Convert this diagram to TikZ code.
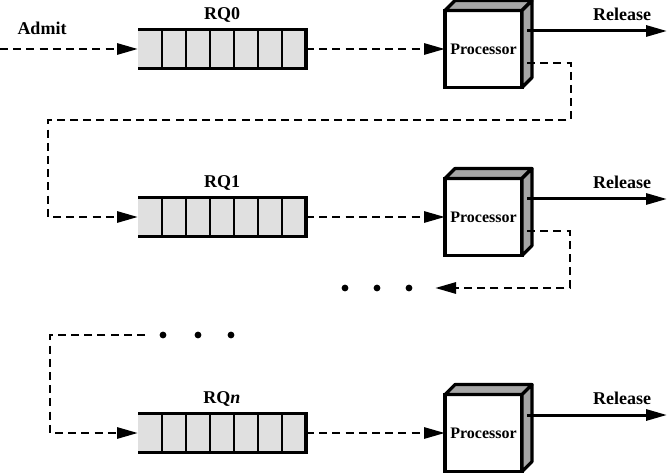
\documentclass[tikz,border=0pt]{standalone}
\usepackage{fontspec}
\setmainfont{Liberation Serif}
\usetikzlibrary{arrows.meta,positioning}

\begin{document}
\begin{tikzpicture}
      [x=0.5pt,y=-0.5pt,
       every node/.style={font=\bfseries\fontsize{9}{10}\selectfont},
       queue/.style={minimum width=84pt,minimum height=19.5pt,fill=black!12,inner sep=0pt,outer sep=0pt},
       cpu/.style={minimum size=38.5pt,draw,line width=1.6pt,fill=white,inner sep=0pt,outer sep=0pt,
                   font=\bfseries\fontsize{8}{9}\selectfont},
       face/.style={fill=black!35,draw,line width=1.6pt,line join=round},
       flow/.style={line width=1.45pt,dash pattern=on 4pt off 2.6pt,-{Triangle[length=10.5pt,width=5.5pt]}},
       release/.style={line width=1.5pt,-{Triangle[length=10.5pt,width=5.5pt]}}]
      \useasboundingbox (0,0) rectangle (667,475);

      \foreach \i/\y/\t in {0/49/RQ0, 1/217/RQ1, 2/433/RQ\textit{n}} {
        \node [queue] (q\i) at (222,\y) {};
        \foreach \k in {1,...,6}
          \draw [line width=0.6pt] (q\i.north west) ++(\k*24,0) -- ++(0,39);
        \draw [line width=1.7pt] (q\i.north west) -- (q\i.north east) -- (q\i.south east) -- (q\i.south west);
        \node [above=0pt of q\i] (l\i) {\t};

        \node [cpu] (p\i) at (483.5,\y) {Processor};
        \filldraw [face] (p\i.north west) -- ++(10,-10) -- ++(77,0) -- (p\i.north east) -- cycle;
        \filldraw [face] (p\i.north east) -- ++(10,-10) -- ++(0,77) -- (p\i.south east) -- cycle;
        \draw [flow] (q\i) -- (p\i);

        \coordinate (r\i) at (527,\y-18);
        \coordinate (e\i) at (667,\y-18);
        \draw [release] (r\i) -- (e\i);
        \node (t\i) at (622,\y-35) {Release};
      }

      \coordinate (a) at (0,49);
      \node (adm) at (42,28) {Admit};
      \draw [flow] (a) -- (q0);

      \coordinate (f0) at (527,63);
      \draw [flow] (f0) -| (571,120) -| (48,217) -- (q1);

      \coordinate (f1) at (527,231);
      \coordinate (d1) at (435,288);
      \draw [flow] (f1) -| (570,288) -- (d1);
      \foreach \x in {345,377,409}
        \fill (\x,288) circle (1.7pt);

      \coordinate (f2) at (145,335);
      \draw [flow] (f2) -| (50,433) -- (q2);
      \foreach \x in {163,198,231}
        \fill (\x,335) circle (1.7pt);
    \end{tikzpicture}
\end{document}
